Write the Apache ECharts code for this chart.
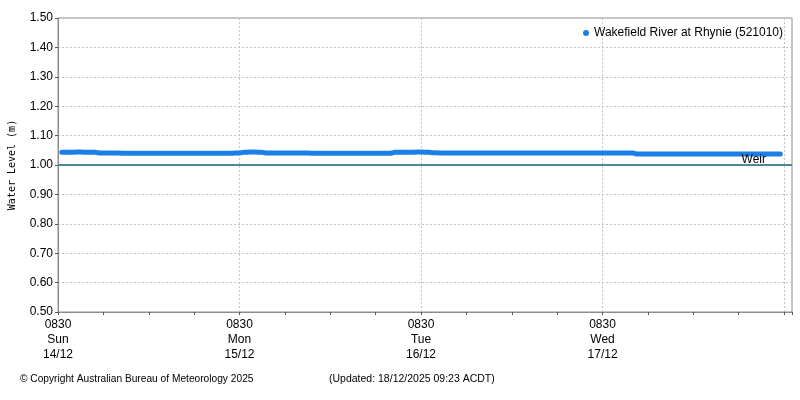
<!DOCTYPE html>
<html>
<head>
<meta charset="utf-8">
<script src="https://cdn.jsdelivr.net/npm/echarts@6/dist/echarts.min.js"></script>
<style>
  html, body { margin: 0; padding: 0; background: #fff; }
  #main { width: 800px; height: 400px; }
</style>
</head>
<body>
<div id="main"></div>
<script>
// hours after 0830 Sun 14/12, one reading per hour from 0900
var levels = [
    1.043, 1.043, 1.044, 1.043, 1.043,
    1.041, 1.041, 1.041, 1.040,
    1.040, 1.040, 1.040, 1.040, 1.040, 1.040, 1.040, 1.040, 1.040, 1.040, 1.040, 1.040, 1.040, 1.040, 1.041,
    1.043, 1.044, 1.043,
    1.041, 1.041, 1.041, 1.041, 1.041, 1.041,
    1.040, 1.040, 1.040, 1.040, 1.040, 1.040, 1.040, 1.040, 1.040, 1.040, 1.040,
    1.043, 1.043, 1.043, 1.044, 1.043,
    1.042, 1.041, 1.041, 1.041, 1.041, 1.041, 1.041, 1.041, 1.041, 1.041, 1.041, 1.041, 1.041, 1.041,
    1.041, 1.041, 1.041, 1.041, 1.041, 1.041, 1.041, 1.041, 1.041, 1.041, 1.041, 1.041, 1.041,
    1.037, 1.037, 1.037, 1.037, 1.037, 1.037, 1.037, 1.037, 1.037, 1.037, 1.037, 1.037, 1.037, 1.037,
    1.037, 1.037, 1.037, 1.037, 1.037, 1.037
];
var dayNames = ['Sun', 'Mon', 'Tue', 'Wed'];
var dayDates = ['14/12', '15/12', '16/12', '17/12'];
var weirLevel = 1.00;
var seriesName = 'Wakefield River at Rhynie (521010)';

var points = levels.map(function (v, i) { return [i + 0.5, v]; });

var myChart = echarts.init(document.getElementById('main'));

option = {
    animation: false,
    textStyle: { fontFamily: 'Liberation Sans' },
    grid: {
        show: true,
        left: 58,
        right: 8,
        top: 18,
        bottom: 88,
        outerBoundsMode: 'none',
        borderColor: '#8c8c8c',
        borderWidth: 1
    },
    legend: {
        right: 12,
        top: 22,
        icon: 'circle',
        itemWidth: 6,
        itemHeight: 6,
        itemGap: 6,
        textStyle: { fontSize: 12, color: '#000', fontFamily: 'Liberation Sans' },
        data: [seriesName]
    },
    xAxis: {
        type: 'value',
        min: 0,
        max: 97.05,
        interval: 24,
        axisLine: { show: true, lineStyle: { color: '#8c8c8c' } },
        axisTick: { show: true, length: 3, lineStyle: { color: '#555' } },
        minorTick: { show: true, splitNumber: 4, length: 3, lineStyle: { color: '#555' } },
        splitLine: { show: true, lineStyle: { color: '#c4c4c4', type: [2, 2] } },
        axisLabel: {
            color: '#000',
            fontSize: 12,
            lineHeight: 15,
            margin: 5,
            showMaxLabel: false,
            formatter: function (v) {
                var d = Math.round(v / 24);
                if (v > 95 || Math.abs(v - d * 24) > 0.01) return '';
                return '0830\n' + dayNames[d] + '\n' + dayDates[d];
            }
        }
    },
    yAxis: {
        type: 'value',
        min: 0.5,
        max: 1.5,
        interval: 0.1,
        name: 'Water Level (m)',
        nameLocation: 'middle',
        nameGap: 41,
        nameTextStyle: { fontFamily: 'DejaVu Sans Mono', fontSize: 10, color: '#000' },
        axisLine: { show: true, lineStyle: { color: '#8c8c8c' } },
        axisTick: { show: true, length: 3, lineStyle: { color: '#555' } },
        splitLine: { show: true, lineStyle: { color: '#c4c4c4', type: [2, 2] } },
        axisLabel: {
            color: '#000',
            fontSize: 12,
            margin: 5,
            formatter: function (v) { return v.toFixed(2); }
        }
    },
    series: [{
        name: seriesName,
        type: 'line',
        step: 'middle',
        showSymbol: false,
        color: '#1a7fe6',
        lineStyle: { width: 5, color: '#1a7fe6', cap: 'round' },
        data: points,
        z: 3,
        markLine: {
            silent: true,
            symbol: 'none',
            lineStyle: { color: '#4f8792', width: 2, type: 'solid' },
            label: {
                show: true,
                formatter: 'Weir',
                position: 'insideEndTop',
                distance: [26, -1],
                color: '#000',
                fontSize: 12,
                fontFamily: 'Liberation Sans'
            },
            data: [{ yAxis: weirLevel }]
        }
    }],
    graphic: [{
        type: 'text',
        left: 20,
        top: 374,
        style: { text: '\u00a9 Copyright Australian Bureau of Meteorology 2025', fontSize: 10.2, fill: '#000', fontFamily: 'Liberation Sans' }
    }, {
        type: 'text',
        left: 329,
        top: 374,
        style: { text: '(Updated: 18/12/2025 09:23 ACDT)', fontSize: 10.5, fill: '#000', fontFamily: 'Liberation Sans' }
    }]
};
myChart.setOption(option);
</script>
</body>
</html>
